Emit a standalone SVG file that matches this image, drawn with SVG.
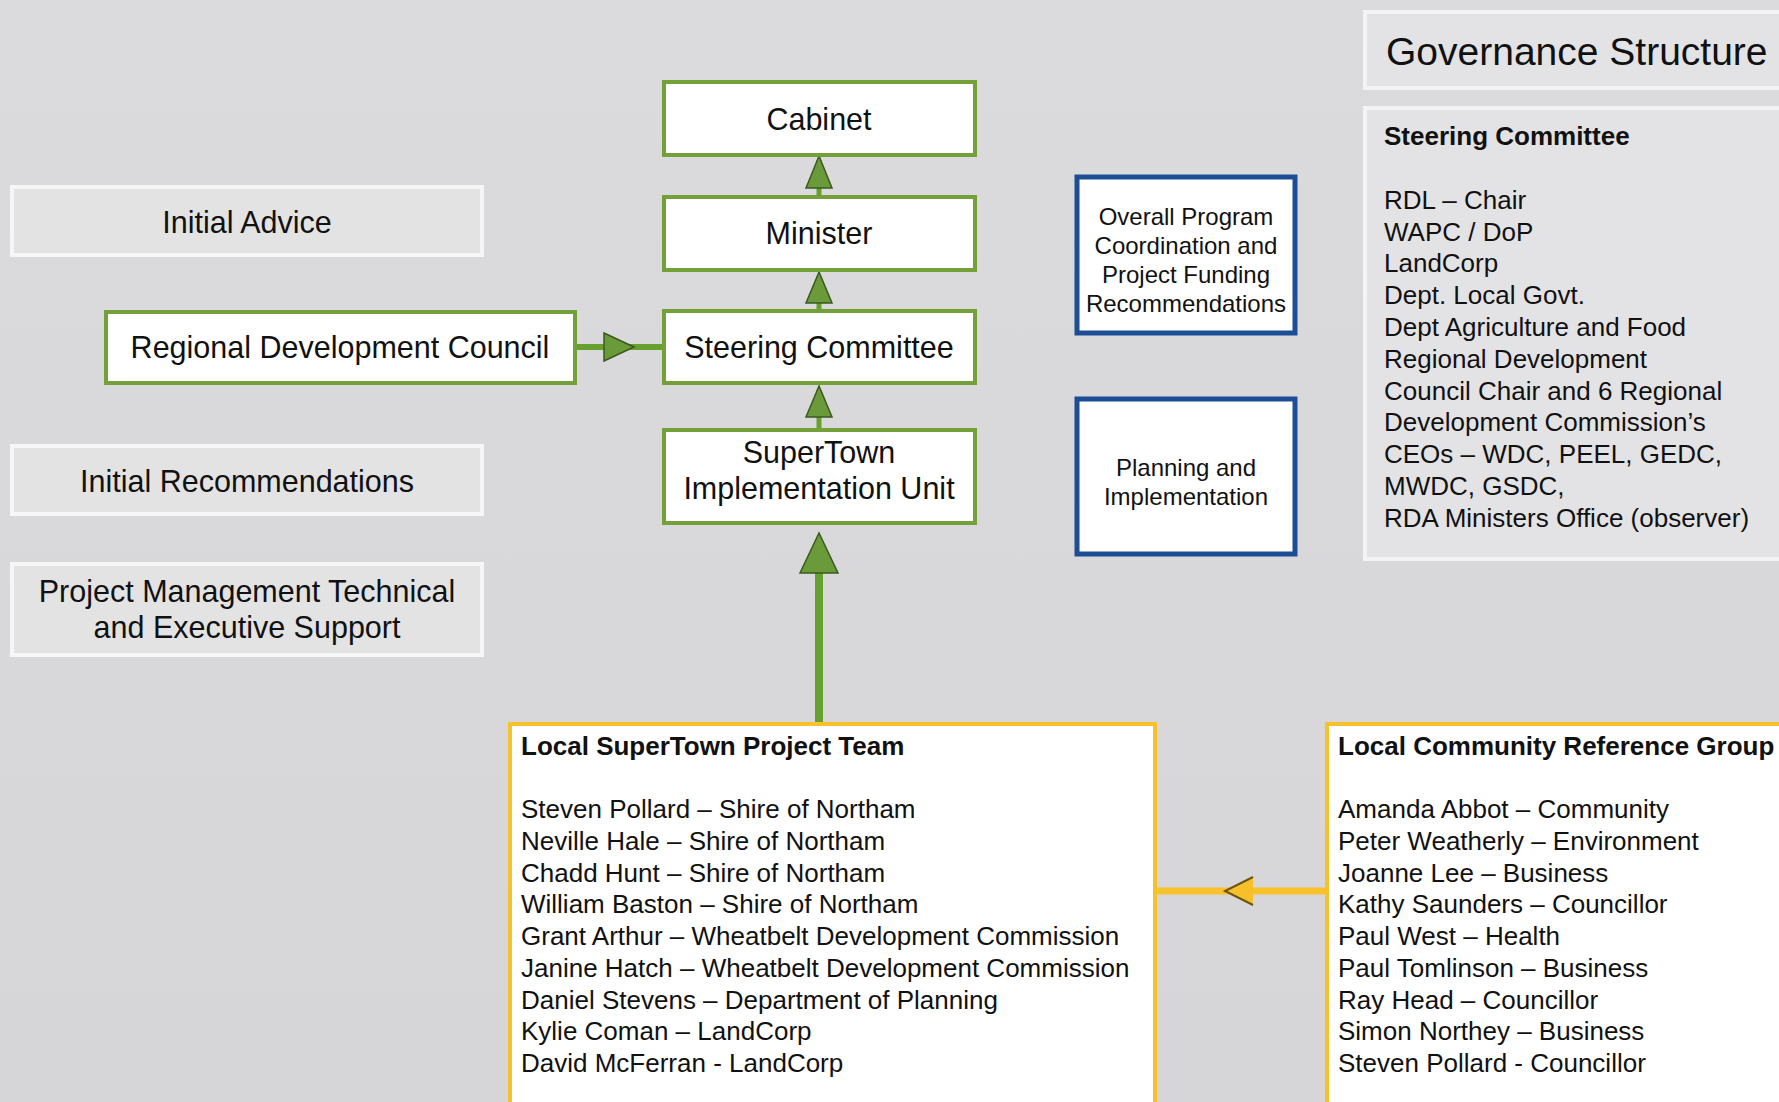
<svg xmlns="http://www.w3.org/2000/svg" width="1779" height="1102" viewBox="0 0 1779 1102">
  <defs>
    <style>
      text { font-family: "Liberation Sans", Arial, sans-serif; fill: #111; }
      .big { font-size: 30.5px; }
      .mid { font-size: 24px; }
      .list { font-size: 26px; }
      .bold { font-size: 26px; font-weight: bold; }
      .title { font-size: 39px; }
      .c { text-anchor: middle; }
      .gray { fill: #e3e3e4; stroke: #f6f6f6; stroke-width: 4; }
      .green { fill: #ffffff; stroke: #74a03a; stroke-width: 4; }
      .blue { fill: #ffffff; stroke: #1d4d94; stroke-width: 5; }
      .yellow { fill: #ffffff; stroke: #f5c22c; stroke-width: 4; }
      .panel { fill: #e3e3e5; stroke: #f3f3f3; stroke-width: 4; }
      .gline { stroke: #66a02e; fill: none; }
      .ghead { fill: #6a9a3a; stroke: #3b5a1c; stroke-width: 1.5; stroke-linejoin: miter; }
    </style>
    <linearGradient id="bg" x1="0" y1="0" x2="0" y2="1">
      <stop offset="0" stop-color="#dbdbdd"/>
      <stop offset="1" stop-color="#d6d6d8"/>
    </linearGradient>
  </defs>

  <rect x="0" y="0" width="1779" height="1102" fill="url(#bg)"/>

  <!-- connectors -->
  <g id="connectors">
    <line class="gline" x1="819" y1="197" x2="819" y2="160" stroke-width="5"/>
    <polygon class="ghead" points="819,156 806,188 832,188"/>
    <line class="gline" x1="819" y1="311" x2="819" y2="276" stroke-width="5"/>
    <polygon class="ghead" points="819,272 806,303 832,303"/>
    <line class="gline" x1="819" y1="430" x2="819" y2="390" stroke-width="5"/>
    <polygon class="ghead" points="819,386 806,417 832,417"/>
    <line class="gline" x1="819" y1="723" x2="819" y2="540" stroke-width="8"/>
    <polygon class="ghead" points="819,533 800,573 838,573"/>
    <line class="gline" x1="575" y1="347" x2="664" y2="347" stroke-width="6"/>
    <polygon class="ghead" points="634,347 604,333 604,361"/>
    <line x1="1155" y1="891" x2="1326" y2="891" stroke="#f7c22b" stroke-width="7"/>
    <polygon points="1225,891 1253,877 1253,905" fill="#f6c02c"/>
    <polyline points="1253,877 1225,891 1253,905" fill="none" stroke="#6e5210" stroke-width="2"/>
  </g>

  <!-- left gray boxes -->
  <g id="initial-advice">
    <rect class="gray" x="12" y="187" width="470" height="68"/>
    <text class="big c" x="247" y="233">Initial Advice</text>
  </g>
  <g id="initial-recommendations">
    <rect class="gray" x="12" y="446" width="470" height="68"/>
    <text class="big c" x="247" y="492">Initial Recommendations</text>
  </g>
  <g id="project-management">
    <rect class="gray" x="12" y="564" width="470" height="91"/>
    <text class="big c" x="247" y="602">Project Management Technical</text>
    <text class="big c" x="247" y="638">and Executive Support</text>
  </g>

  <!-- green nodes -->
  <g id="regional-development-council">
    <rect class="green" x="106" y="312" width="469" height="71"/>
    <text class="big c" x="340" y="358">Regional Development Council</text>
  </g>
  <g id="cabinet">
    <rect class="green" x="664" y="82" width="311" height="73"/>
    <text class="big c" x="819" y="130">Cabinet</text>
  </g>
  <g id="minister">
    <rect class="green" x="664" y="197" width="311" height="73"/>
    <text class="big c" x="819" y="244">Minister</text>
  </g>
  <g id="steering-committee">
    <rect class="green" x="664" y="311" width="311" height="72"/>
    <text class="big c" x="819" y="358">Steering Committee</text>
  </g>
  <g id="supertown-implementation-unit">
    <rect class="green" x="664" y="430" width="311" height="93"/>
    <text class="big c" x="819" y="463">SuperTown</text>
    <text class="big c" x="819" y="499">Implementation Unit</text>
  </g>

  <!-- blue boxes -->
  <g id="overall-program">
    <rect class="blue" x="1077" y="177" width="218" height="156"/>
    <text class="mid c" x="1186" y="225">Overall Program</text>
    <text class="mid c" x="1186" y="254">Coordination and</text>
    <text class="mid c" x="1186" y="283">Project Funding</text>
    <text class="mid c" x="1186" y="312">Recommendations</text>
  </g>
  <g id="planning-implementation">
    <rect class="blue" x="1077" y="399" width="218" height="155"/>
    <text class="mid c" x="1186" y="476">Planning and</text>
    <text class="mid c" x="1186" y="505">Implementation</text>
  </g>

  <!-- right panels -->
  <g id="governance-structure">
    <rect class="panel" x="1365" y="12" width="430" height="76"/>
    <text class="title" x="1386" y="65">Governance Structure</text>
  </g>
  <g id="steering-committee-members">
    <rect class="panel" x="1365" y="108" width="430" height="451"/>
    <text class="bold" x="1384" y="145">Steering Committee</text>
    <text class="list" x="1384" y="209">RDL – Chair</text>
    <text class="list" x="1384" y="241">WAPC / DoP</text>
    <text class="list" x="1384" y="272">LandCorp</text>
    <text class="list" x="1384" y="304">Dept. Local Govt.</text>
    <text class="list" x="1384" y="336">Dept Agriculture and Food</text>
    <text class="list" x="1384" y="368">Regional Development</text>
    <text class="list" x="1384" y="400">Council Chair and 6 Regional</text>
    <text class="list" x="1384" y="431">Development Commission’s</text>
    <text class="list" x="1384" y="463">CEOs – WDC, PEEL, GEDC,</text>
    <text class="list" x="1384" y="495">MWDC, GSDC,</text>
    <text class="list" x="1384" y="527">RDA Ministers Office (observer)</text>
  </g>

  <!-- yellow boxes -->
  <g id="local-supertown-project-team">
    <rect class="yellow" x="510" y="724" width="645" height="400"/>
    <text class="bold" x="521" y="755">Local SuperTown Project Team</text>
    <text class="list" x="521" y="818">Steven Pollard – Shire of Northam</text>
    <text class="list" x="521" y="850">Neville Hale – Shire of Northam</text>
    <text class="list" x="521" y="882">Chadd Hunt – Shire of Northam</text>
    <text class="list" x="521" y="913">William Baston – Shire of Northam</text>
    <text class="list" x="521" y="945">Grant Arthur – Wheatbelt Development Commission</text>
    <text class="list" x="521" y="977">Janine Hatch – Wheatbelt Development Commission</text>
    <text class="list" x="521" y="1009">Daniel Stevens – Department of Planning</text>
    <text class="list" x="521" y="1040">Kylie Coman – LandCorp</text>
    <text class="list" x="521" y="1072">David McFerran - LandCorp</text>
  </g>
  <g id="local-community-reference-group">
    <rect class="yellow" x="1327" y="724" width="470" height="400"/>
    <text class="bold" x="1338" y="755">Local Community Reference Group</text>
    <text class="list" x="1338" y="818">Amanda Abbot – Community</text>
    <text class="list" x="1338" y="850">Peter Weatherly – Environment</text>
    <text class="list" x="1338" y="882">Joanne Lee – Business</text>
    <text class="list" x="1338" y="913">Kathy Saunders – Councillor</text>
    <text class="list" x="1338" y="945">Paul West – Health</text>
    <text class="list" x="1338" y="977">Paul Tomlinson – Business</text>
    <text class="list" x="1338" y="1009">Ray Head – Councillor</text>
    <text class="list" x="1338" y="1040">Simon Northey – Business</text>
    <text class="list" x="1338" y="1072">Steven Pollard - Councillor</text>
  </g>
</svg>
